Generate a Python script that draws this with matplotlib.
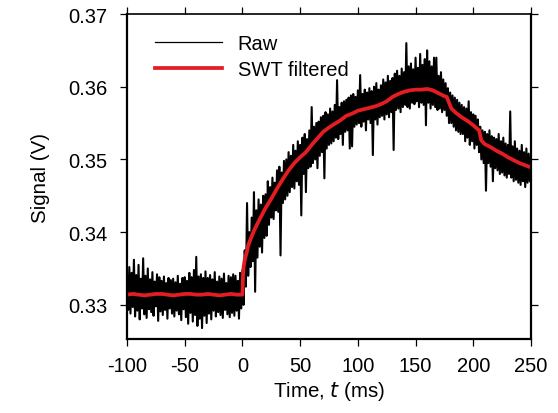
import numpy as np
import matplotlib.pyplot as plt

plt.rcParams['font.family'] = ['Liberation Sans', 'DejaVu Sans']
plt.rcParams['axes.unicode_minus'] = False

# raw trace, one sample per ms from -100 to 250 ms, in units of 0.1 mV
t_raw = np.arange(-100, 251, 1)
raw_01mV = [
    3338, 3293, 3352, 3288, 3344, 3297, 3362, 3284, 3341, 3292,
    3355, 3280, 3336, 3295, 3364, 3287, 3340, 3282, 3350, 3294,
    3335, 3290, 3345, 3285, 3332, 3298, 3342, 3278, 3338, 3291,
    3333, 3286, 3339, 3293, 3330, 3281, 3337, 3295, 3334, 3288,
    3336, 3284, 3331, 3292, 3340, 3287, 3329, 3279, 3337, 3294,
    3338, 3283, 3333, 3274, 3344, 3289, 3338, 3277, 3348, 3286,
    3366, 3271, 3339, 3281, 3342, 3268, 3337, 3285, 3346, 3275,
    3337, 3288, 3341, 3280, 3335, 3292, 3345, 3284, 3332, 3290,
    3339, 3286, 3336, 3282, 3343, 3293, 3330, 3287, 3340, 3283,
    3338, 3289, 3342, 3285, 3340, 3292, 3333, 3281, 3344, 3295,
    3348, 3300, 3375, 3325, 3440, 3340, 3400, 3352, 3420, 3360,
    3455, 3318, 3430, 3365, 3445, 3380, 3438, 3372, 3450, 3392,
    3452, 3395, 3470, 3410, 3462, 3420, 3475, 3418, 3468, 3430,
    3485, 3428, 3490, 3368, 3482, 3440, 3498, 3445, 3500, 3450,
    3510, 3455, 3505, 3462, 3520, 3460, 3512, 3470, 3525, 3465,
    3520, 3423, 3530, 3480, 3535, 3455, 3528, 3488, 3540, 3490,
    3572, 3495, 3545, 3500, 3550, 3488, 3552, 3505, 3558, 3510,
    3560, 3474, 3565, 3515, 3562, 3520, 3570, 3522, 3566, 3525,
    3575, 3530, 3609, 3528, 3572, 3535, 3578, 3520, 3580, 3538,
    3582, 3540, 3585, 3515, 3588, 3518, 3590, 3545, 3586, 3548,
    3595, 3550, 3616, 3545, 3590, 3552, 3596, 3540, 3592, 3555,
    3598, 3550, 3594, 3506, 3600, 3555, 3605, 3548, 3596, 3558,
    3602, 3560, 3610, 3555, 3606, 3562, 3615, 3558, 3608, 3565,
    3612, 3513, 3618, 3568, 3622, 3570, 3615, 3565, 3625, 3572,
    3620, 3575, 3660, 3572, 3628, 3570, 3632, 3578, 3624, 3576,
    3640, 3580, 3626, 3572, 3645, 3578, 3630, 3575, 3638, 3547,
    3650, 3578, 3635, 3570, 3628, 3575, 3640, 3572, 3640, 3568,
    3615, 3570, 3620, 3565, 3610, 3568, 3605, 3560, 3598, 3550,
    3592, 3550, 3588, 3545, 3585, 3540, 3582, 3538, 3578, 3535,
    3575, 3535, 3572, 3525, 3570, 3530, 3580, 3520, 3565, 3525,
    3562, 3515, 3560, 3520, 3555, 3510, 3545, 3500, 3540, 3495,
    3538, 3457, 3535, 3495, 3540, 3490, 3532, 3470, 3530, 3488,
    3528, 3485, 3535, 3480, 3525, 3482, 3530, 3478, 3522, 3475,
    3520, 3480, 3566, 3475, 3518, 3470, 3525, 3472, 3515, 3468,
    3512, 3465, 3520, 3470, 3510, 3462, 3515, 3468, 3508, 3470, 3505,
]
raw = np.array(raw_01mV) / 1e4

# SWT filtered curve
t_swt = [-100, -95, -90, -85, -80, -75, -70, -65, -60, -55, -50, -45, -40, -35,
         -30, -25, -20, -15, -10, -5, 0, 0.5, 1, 2, 4, 5, 10, 15, 20, 25, 30, 35,
         40, 45, 50, 55, 60, 65, 70, 75, 80, 85, 90, 95, 100, 105, 110, 115, 120,
         125, 130, 135, 140, 145, 150, 155, 160, 165, 170, 175, 177, 181, 185,
         190, 195, 200, 205, 207, 210, 215, 220, 225, 230, 235, 240, 245, 250]
swt_01mV = [3314, 3315, 3314, 3313, 3314, 3315, 3315, 3314, 3313, 3314, 3315,
            3315, 3314, 3314, 3315, 3314, 3313, 3314, 3315, 3314, 3314, 3340,
            3352, 3362, 3374, 3382, 3402, 3418, 3433, 3446, 3460, 3473, 3485,
            3495, 3503, 3510, 3520, 3529, 3538, 3544, 3549, 3554, 3560, 3563,
            3567, 3569, 3571, 3573, 3576, 3580, 3586, 3590, 3593, 3595, 3596,
            3596, 3597, 3595, 3591, 3587, 3586, 3570, 3564, 3558, 3553, 3547,
            3540, 3526, 3521, 3517, 3512, 3508, 3503, 3499, 3495, 3492, 3489]
swt = np.array(swt_01mV) / 1e4

fig = plt.figure(figsize=(5.58, 4.14), dpi=100)
ax = fig.add_axes([0.2276, 0.1787, 0.724, 0.785])

ax.plot(t_raw, raw, color='black', lw=1.5, label='Raw')
ax.plot(t_swt, swt, color='#e41d23', lw=2.7, label='SWT filtered')

ax.set_xlim(-100, 250)
ax.set_ylim(0.3253, 0.37)
ax.set_xticks([-100, -50, 0, 50, 100, 150, 200, 250])
ax.set_yticks([0.33, 0.34, 0.35, 0.36, 0.37])
ax.set_yticklabels(['0.33', '0.34', '0.35', '0.36', '0.37'])

for s in ax.spines.values():
    s.set_linewidth(1.6)
ax.spines['top'].set_linewidth(1.2)
ax.tick_params(direction='out', length=5, width=0.9, top=True, right=True,
               labelsize=14.5)
ax.tick_params(axis='x', pad=7)
ax.tick_params(axis='y', pad=9)

ax.set_xlabel('Time, $\\it{t}$ (ms)', fontsize=14.8, labelpad=3)
ax.set_ylabel('Signal (V)', fontsize=14.8, labelpad=13)

leg = ax.legend(loc='upper left', frameon=False, fontsize=14.5, handlelength=3.3,
                borderaxespad=0.6, bbox_to_anchor=(0.02, 1.0), labelspacing=0.35)
leg.get_lines()[0].set_linewidth(0.9)

fig.savefig('out.png', dpi=100)
